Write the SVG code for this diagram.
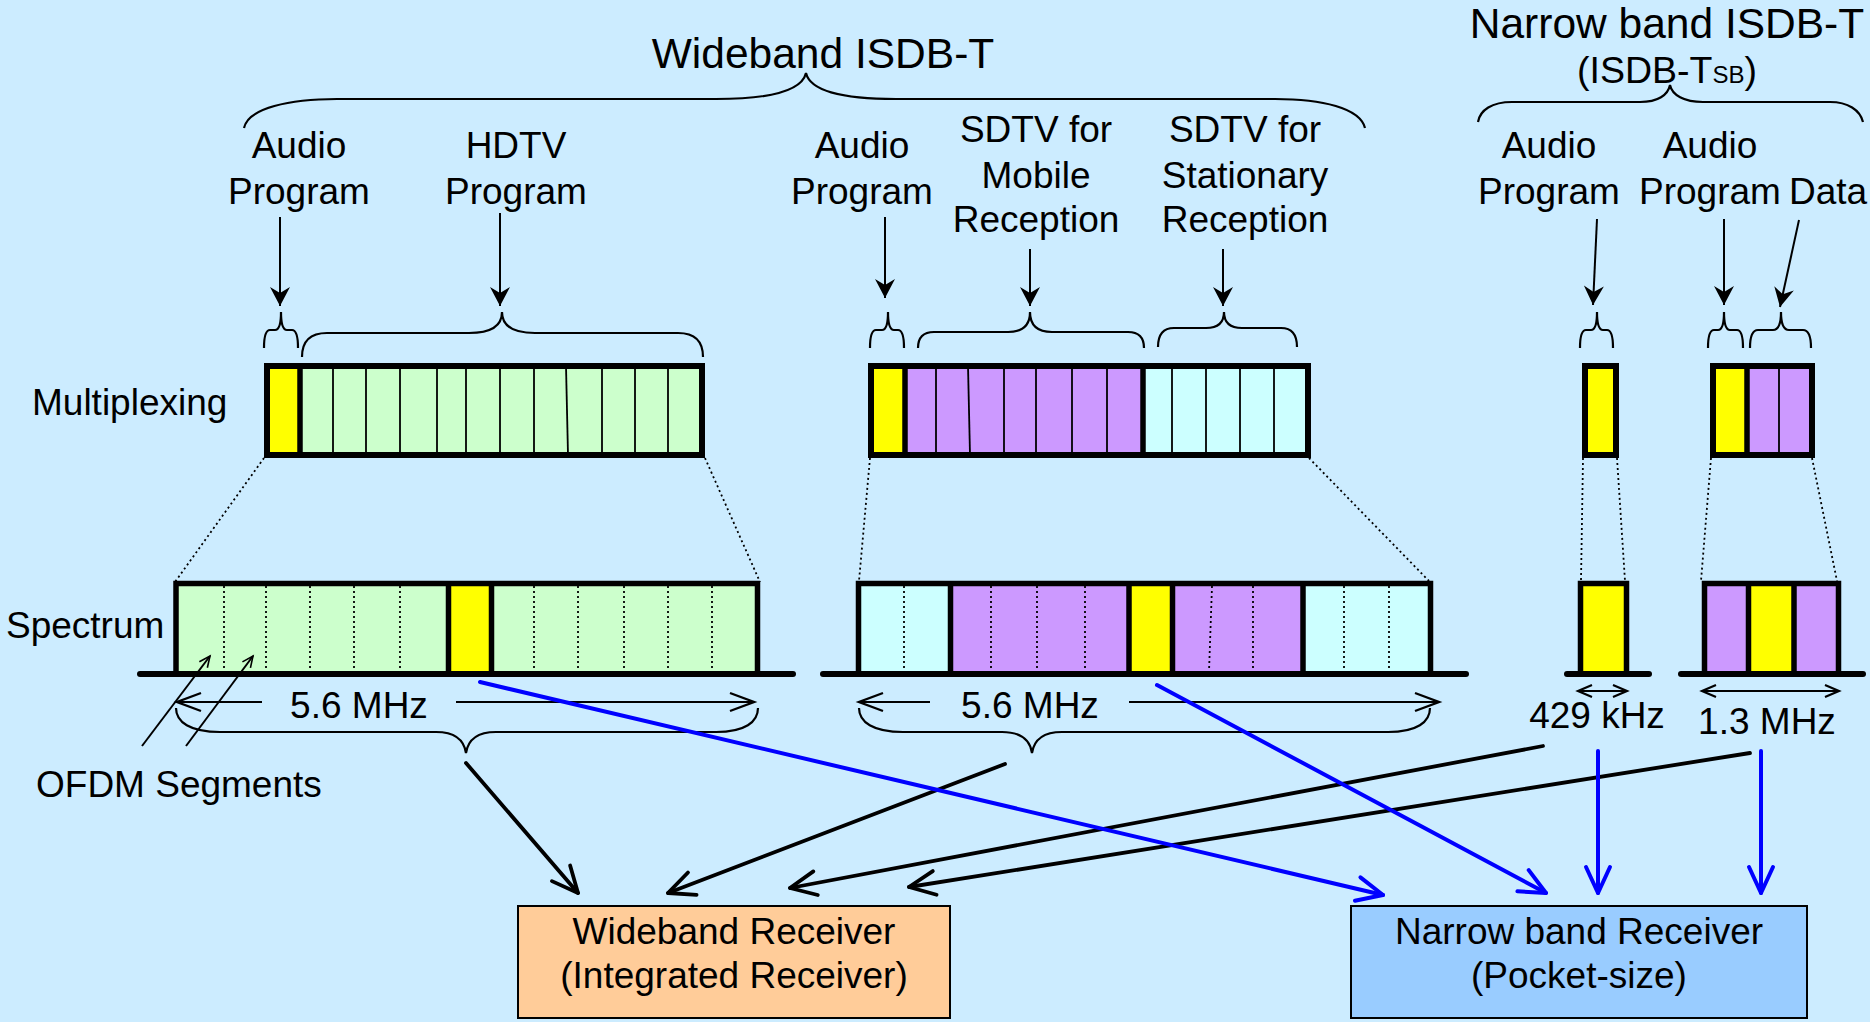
<svg xmlns="http://www.w3.org/2000/svg" width="1870" height="1022" viewBox="0 0 1870 1022">
<style>
text{font-family:"Liberation Sans",Arial,sans-serif;fill:#000}
.t{font-size:37px;text-anchor:middle}
.title{font-size:42.5px;text-anchor:middle}
.brace{fill:none;stroke:#000;stroke-width:2.2}
.thin{stroke:#000;stroke-width:1.8}
.dot{stroke:#000;stroke-width:1.8;stroke-dasharray:2 3}
.thick{stroke:#000;stroke-width:5.5;fill:none}
.frame{stroke:#000;stroke-width:6;fill:none}
.base{stroke:#000;stroke-width:6;stroke-linecap:round}
.ptr{stroke:#000;stroke-width:2;fill:none}
.big{stroke:#000;stroke-width:3.8;fill:none;stroke-linecap:round;marker-end:url(#openK)}
.blue{stroke:#0000FF;stroke-width:4;fill:none;stroke-linecap:round;marker-end:url(#openB)}
.dim{stroke:#000;stroke-width:2.2;fill:none;marker-end:url(#dimA)}
.g{fill:#CCFFCC}.y{fill:#FFFF00}.p{fill:#CC99FF}.c{fill:#CCFFFF}
</style>
<defs>
<marker id="stealth" markerUnits="userSpaceOnUse" viewBox="-20 -11 22 22" markerWidth="22" markerHeight="22" refX="0" refY="0" orient="auto" overflow="visible">
<path d="M0,0 L-19,-10 L-13,0 L-19,10 Z" fill="#000"/>
</marker>
<marker id="openK" markerUnits="userSpaceOnUse" viewBox="-30 -16 34 32" markerWidth="34" markerHeight="32" refX="0" refY="0" orient="auto" overflow="visible">
<path d="M-26,-12 L0,0 L-26,12" fill="none" stroke="#000" stroke-width="3.8" stroke-linecap="round" stroke-linejoin="round"/>
</marker>
<marker id="openB" markerUnits="userSpaceOnUse" viewBox="-30 -16 34 32" markerWidth="34" markerHeight="32" refX="0" refY="0" orient="auto" overflow="visible">
<path d="M-26,-12 L0,0 L-26,12" fill="none" stroke="#0000FF" stroke-width="4" stroke-linecap="round" stroke-linejoin="round"/>
</marker>
<marker id="dimA" markerUnits="userSpaceOnUse" viewBox="-28 -12 32 24" markerWidth="32" markerHeight="24" refX="0" refY="0" orient="auto" overflow="visible">
<path d="M-24,-9 L0,0 L-24,9" fill="none" stroke="#000" stroke-width="2.4"/>
</marker>
<marker id="smallS" markerUnits="userSpaceOnUse" viewBox="-18 -9 20 18" markerWidth="20" markerHeight="18" refX="0" refY="0" orient="auto-start-reverse" overflow="visible">
<path d="M-14,-6 L0,0 L-14,6" fill="none" stroke="#000" stroke-width="2.2"/>
</marker>
<marker id="ofdm" markerUnits="userSpaceOnUse" viewBox="-14 -8 16 16" markerWidth="16" markerHeight="16" refX="0" refY="0" orient="auto" overflow="visible">
<path d="M-11,-5 L0,0 L-11,5" fill="none" stroke="#000" stroke-width="1.6"/>
</marker>
</defs>
<rect width="1870" height="1022" fill="#CCECFF"/>

<g id="titles">
<text class="title" x="823" y="68">Wideband ISDB-T</text>
<text class="title" x="1667" y="38">Narrow band ISDB-T</text>
<text x="1577" y="83" font-size="37.5">(ISDB-T<tspan font-size="24">SB</tspan>)</text>
<path class="brace" d="M244,128 C248,108 290,99 337,99 L716,99 C772,99 802,90 806,73 C810,90 840,99 896,99 L1275,99 C1322,99 1360,108 1365,128"/>
<path class="brace" d="M1478,122 C1480,110 1492,102 1512,102 L1640,102 C1658,102 1668,95 1670,85 C1672,95 1684,102 1703,102 L1830,102 C1848,102 1860,110 1863,122"/>
</g>

<g id="labels">
<text class="t" x="299" y="158">Audio</text>
<text class="t" x="299" y="204">Program</text>
<text class="t" x="516" y="158">HDTV</text>
<text class="t" x="516" y="204">Program</text>
<text class="t" x="862" y="158">Audio</text>
<text class="t" x="862" y="204">Program</text>
<text class="t" x="1036" y="142">SDTV for</text>
<text class="t" x="1036" y="188">Mobile</text>
<text class="t" x="1036" y="232">Reception</text>
<text class="t" x="1245" y="142">SDTV for</text>
<text class="t" x="1245" y="188">Stationary</text>
<text class="t" x="1245" y="232">Reception</text>
<text class="t" x="1549" y="158">Audio</text>
<text class="t" x="1549" y="204">Program</text>
<text class="t" x="1710" y="158">Audio</text>
<text class="t" x="1710" y="204">Program</text>
<text class="t" x="1828" y="204">Data</text>
<text x="32" y="415" font-size="37">Multiplexing</text>
<text x="6" y="638" font-size="37">Spectrum</text>
<text x="36" y="797" font-size="37">OFDM Segments</text>
<text class="t" x="359" y="718">5.6 MHz</text>
<text class="t" x="1030" y="718">5.6 MHz</text>
<text class="t" x="1597" y="728">429 kHz</text>
<text class="t" x="1767" y="734">1.3 MHz</text>
</g>

<g id="label-arrows" fill="none" stroke="#000" stroke-width="2">
<line x1="280" y1="217" x2="280" y2="306" marker-end="url(#stealth)"/>
<line x1="500" y1="213" x2="500" y2="306" marker-end="url(#stealth)"/>
<line x1="885" y1="217" x2="885" y2="298" marker-end="url(#stealth)"/>
<line x1="1030" y1="249" x2="1030" y2="306" marker-end="url(#stealth)"/>
<line x1="1223" y1="249" x2="1223" y2="306" marker-end="url(#stealth)"/>
<line x1="1597" y1="219" x2="1593" y2="305" marker-end="url(#stealth)"/>
<line x1="1724" y1="219" x2="1724" y2="305" marker-end="url(#stealth)"/>
<line x1="1799" y1="220" x2="1780" y2="307" marker-end="url(#stealth)"/>
</g>

<g id="mux-braces">
<path class="brace" d="M264,348 Q264,330 270,330 L275,330 Q281,330 281,312 Q281,330 287,330 L292,330 Q298,330 298,348"/>
<path class="brace" d="M302,357 Q302,333 327,333 L469,333 Q502,333 502,312 Q502,333 535,333 L678,333 Q703,333 703,357"/>
<path class="brace" d="M870,348 Q870,330 876,330 L882,330 Q888,330 888,312 Q888,330 894,330 L898,330 Q904,330 904,348"/>
<path class="brace" d="M918,348 Q918,332 934,332 L1008,332 Q1030,332 1030,312 Q1030,332 1052,332 L1128,332 Q1144,332 1144,348"/>
<path class="brace" d="M1158,347 Q1158,328 1174,328 L1206,328 Q1224,328 1224,312 Q1224,328 1242,328 L1281,328 Q1297,328 1297,347"/>
<path class="brace" d="M1580,348 Q1580,330 1586,330 L1591,330 Q1597,330 1597,312 Q1597,330 1603,330 L1607,330 Q1613,330 1613,348"/>
<path class="brace" d="M1708,348 Q1708,330 1714,330 L1718,330 Q1724,330 1724,312 Q1724,330 1730,330 L1737,330 Q1743,330 1743,348"/>
<path class="brace" d="M1750,348 Q1750,330 1758,330 L1773,330 Q1781,330 1781,312 Q1781,330 1789,330 L1803,330 Q1811,330 1811,348"/>
</g>

<g id="mux-hdtv">
<rect class="y" x="267" y="366" width="33" height="89"/>
<rect class="g" x="300" y="366" width="402" height="89"/>
<g class="thin">
<line x1="333" y1="366" x2="333" y2="455"/><line x1="366" y1="366" x2="366" y2="455"/>
<line x1="400" y1="366" x2="400" y2="455"/><line x1="437" y1="366" x2="437" y2="455"/>
<line x1="466" y1="366" x2="466" y2="455"/><line x1="500" y1="366" x2="500" y2="455"/>
<line x1="534" y1="366" x2="534" y2="455"/><line x1="566" y1="366" x2="568" y2="455"/>
<line x1="602" y1="366" x2="602" y2="455"/><line x1="635" y1="366" x2="635" y2="455"/>
<line x1="668" y1="366" x2="668" y2="455"/>
</g>
<line class="thick" x1="300" y1="366" x2="300" y2="455"/>
<rect class="frame" x="267" y="366" width="435" height="89"/>
</g>

<g id="mux-sdtv">
<rect class="y" x="871" y="366" width="34" height="89"/>
<rect class="p" x="905" y="366" width="238" height="89"/>
<rect class="c" x="1143" y="366" width="165" height="89"/>
<g class="thin">
<line x1="936" y1="366" x2="936" y2="455"/><line x1="968" y1="366" x2="970" y2="455"/>
<line x1="1004" y1="366" x2="1004" y2="455"/><line x1="1036" y1="366" x2="1036" y2="455"/>
<line x1="1072" y1="366" x2="1072" y2="455"/><line x1="1107" y1="366" x2="1107" y2="455"/>
<line x1="1172" y1="366" x2="1172" y2="455"/><line x1="1206" y1="366" x2="1206" y2="455"/>
<line x1="1240" y1="366" x2="1240" y2="455"/><line x1="1274" y1="366" x2="1274" y2="455"/>
</g>
<line class="thick" x1="905" y1="366" x2="905" y2="455"/>
<line class="thick" x1="1143" y1="366" x2="1143" y2="455"/>
<rect class="frame" x="871" y="366" width="437" height="89"/>
</g>

<g id="mux-narrow1">
<rect class="y" x="1585" y="366" width="31" height="89"/>
<rect class="frame" x="1585" y="366" width="31" height="89"/>
</g>

<g id="mux-narrow2">
<rect class="y" x="1713" y="366" width="34" height="89"/>
<rect class="p" x="1747" y="366" width="65" height="89"/>
<line class="thin" x1="1779" y1="366" x2="1779" y2="455"/>
<line class="thick" x1="1747" y1="366" x2="1747" y2="455"/>
<rect class="frame" x="1713" y="366" width="99" height="89"/>
</g>

<g id="zoom-lines">
<line class="dot" x1="264" y1="458" x2="175" y2="582"/>
<line class="dot" x1="705" y1="458" x2="760" y2="582"/>
<line class="dot" x1="870" y1="458" x2="859" y2="581"/>
<line class="dot" x1="1309" y1="458" x2="1429" y2="581"/>
<line class="dot" x1="1583" y1="458" x2="1581" y2="581"/>
<line class="dot" x1="1617" y1="458" x2="1625" y2="581"/>
<line class="dot" x1="1711" y1="458" x2="1701" y2="581"/>
<line class="dot" x1="1812" y1="458" x2="1837" y2="581"/>
</g>

<g id="spec-hdtv">
<rect class="g" x="176" y="584" width="582" height="90"/>
<rect class="y" x="448" y="584" width="44" height="90"/>
<g class="dot">
<line x1="224" y1="586" x2="224" y2="672"/><line x1="266" y1="586" x2="266" y2="672"/>
<line x1="310" y1="586" x2="310" y2="672"/><line x1="354" y1="586" x2="354" y2="672"/>
<line x1="400" y1="586" x2="400" y2="672"/><line x1="534" y1="586" x2="534" y2="672"/>
<line x1="578" y1="586" x2="578" y2="672"/><line x1="624" y1="586" x2="624" y2="672"/>
<line x1="668" y1="586" x2="668" y2="672"/><line x1="712" y1="586" x2="712" y2="672"/>
</g>
<line class="thick" x1="448.5" y1="584" x2="448.5" y2="674"/>
<line class="thick" x1="491.5" y1="584" x2="491.5" y2="674"/>
<path class="thick" d="M176,674 L176,583.5 L757.5,583.5 L757.5,674"/>
</g>

<g id="spec-sdtv">
<rect class="c" x="858" y="584" width="93" height="90"/>
<rect class="p" x="951" y="584" width="178" height="90"/>
<rect class="y" x="1129" y="584" width="44" height="90"/>
<rect class="p" x="1173" y="584" width="130" height="90"/>
<rect class="c" x="1303" y="584" width="128" height="90"/>
<g class="dot">
<line x1="904" y1="586" x2="904" y2="672"/><line x1="991" y1="586" x2="991" y2="672"/>
<line x1="1037" y1="586" x2="1037" y2="672"/><line x1="1085" y1="586" x2="1085" y2="672"/>
<line x1="1212" y1="586" x2="1209" y2="672"/><line x1="1253" y1="586" x2="1253" y2="672"/>
<line x1="1344" y1="586" x2="1344" y2="672"/><line x1="1389" y1="586" x2="1389" y2="672"/>
</g>
<line class="thick" x1="950.5" y1="584" x2="950.5" y2="674"/>
<line class="thick" x1="1129" y1="584" x2="1129" y2="674"/>
<line class="thick" x1="1172.5" y1="584" x2="1172.5" y2="674"/>
<line class="thick" x1="1303" y1="584" x2="1303" y2="674"/>
<path class="thick" d="M858.5,674 L858.5,583.5 L1430.5,583.5 L1430.5,674"/>
</g>

<g id="spec-narrow1">
<rect class="y" x="1580" y="584" width="47" height="90"/>
<path class="thick" d="M1580.5,674 L1580.5,583.5 L1626.5,583.5 L1626.5,674"/>
</g>

<g id="spec-narrow2">
<rect class="p" x="1704" y="584" width="135" height="90"/>
<rect class="y" x="1748" y="584" width="46" height="90"/>
<line class="thick" x1="1748.5" y1="584" x2="1748.5" y2="674"/>
<line class="thick" x1="1794" y1="584" x2="1794" y2="674"/>
<path class="thick" d="M1704.5,674 L1704.5,583.5 L1838.5,583.5 L1838.5,674"/>
</g>

<g id="baselines">
<line class="base" x1="140" y1="674" x2="793" y2="674"/>
<line class="base" x1="823" y1="674" x2="1466" y2="674"/>
<line class="base" x1="1567" y1="674" x2="1649" y2="674"/>
<line class="base" x1="1681" y1="674" x2="1863" y2="674"/>
</g>

<g id="dimensions">
<line class="dim" x1="262" y1="702" x2="177" y2="702"/>
<line class="dim" x1="456" y1="702" x2="754" y2="702"/>
<line class="dim" x1="930" y1="702" x2="859" y2="702"/>
<line class="dim" x1="1129" y1="702" x2="1439" y2="702"/>
<line stroke="#000" stroke-width="2.2" x1="1578" y1="691" x2="1627" y2="691" marker-start="url(#smallS)" marker-end="url(#smallS)"/>
<line stroke="#000" stroke-width="2.2" x1="1702" y1="691" x2="1839" y2="691" marker-start="url(#smallS)" marker-end="url(#smallS)"/>
<path class="brace" d="M176,708 C176,722 190,732 220,732 L436,732 C455,732 464,740 466,753 C468,740 477,732 496,732 L716,732 C745,732 758,722 758,708"/>
<path class="brace" d="M859,708 C859,722 873,732 903,732 L1002,732 C1021,732 1030,740 1032,753 C1034,740 1043,732 1062,732 L1388,732 C1417,732 1430,722 1430,708"/>
<line class="ptr" stroke-width="1.6" x1="142" y1="746" x2="210" y2="656" marker-end="url(#ofdm)"/>
<line class="ptr" stroke-width="1.6" x1="186" y1="746" x2="253" y2="656" marker-end="url(#ofdm)"/>
</g>

<g id="wideband-receiver">
<rect x="518" y="906" width="432" height="112" fill="#FFCC99" stroke="#000" stroke-width="2"/>
<text class="t" x="734" y="944">Wideband Receiver</text>
<text class="t" x="734" y="988">(Integrated Receiver)</text>
</g>

<g id="narrowband-receiver">
<rect x="1351" y="906" width="456" height="112" fill="#99CCFF" stroke="#000" stroke-width="2"/>
<text class="t" x="1579" y="944">Narrow band Receiver</text>
<text class="t" x="1579" y="988">(Pocket-size)</text>
</g>

<g id="connectors">
<line class="big" x1="466" y1="763" x2="578" y2="893"/>
<line class="big" x1="1005" y1="764" x2="668" y2="893"/>
<line class="big" x1="1543" y1="746" x2="790" y2="888"/>
<line class="big" x1="1750" y1="753" x2="909" y2="887"/>
<line class="blue" x1="480" y1="682" x2="1383" y2="895"/>
<line class="blue" x1="1157" y1="685" x2="1546" y2="893"/>
<line class="blue" x1="1598" y1="751" x2="1598" y2="893"/>
<line class="blue" x1="1761" y1="751" x2="1761" y2="893"/>
</g>
</svg>
